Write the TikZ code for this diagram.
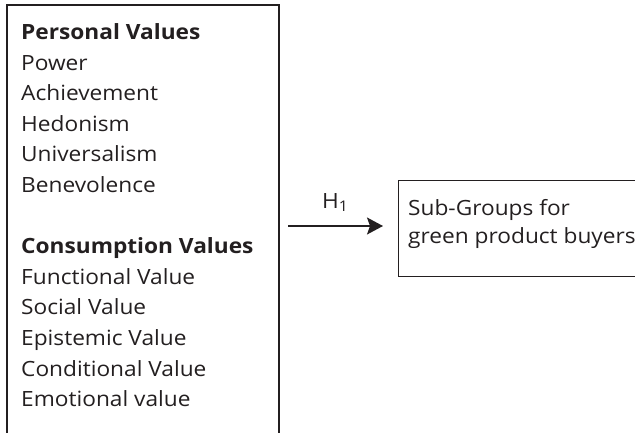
\documentclass[tikz,border=0pt]{standalone}
\usepackage{fontspec}
\setmainfont{Open Sans}[FakeStretch=1.08]
\usepackage{xcolor}
\usetikzlibrary{arrows.meta, positioning}
\definecolor{inkblack}{HTML}{231F20}

\begin{document}
\begin{tikzpicture}[x=1pt, y=-1pt, >={Stealth[length=16pt, width=17pt, inset=3pt]},
    txt/.style={anchor=base west, inner sep=0pt, text=inkblack, font=\fontsize{21}{25}\selectfont},
    frame/.style={draw=inkblack, line width=1.4pt}]

    % drawing area (pixels of the reference)
    \useasboundingbox (0,0) rectangle (635,433);
    \clip (0,0) rectangle (635,433);

    % =================================================================
    % 1. LEFT BOX (open at the bottom)
    % =================================================================
    \draw[frame] (7,440) -- (7,5) -- (279,5) -- (279,440);

    % list of values, one line each
    \foreach \i/\txt in {0/{\textbf{Personal Values}}, 1/Power, 2/Achievement,
        3/Hedonism, 4/Universalism, 5/Benevolence,
        7/{\textbf{Consumption Values}}, 8/Functional Value, 9/Social Value,
        10/Epistemic Value, 11/Conditional Value, 12/Emotional value}
        \node[txt] (val\i) at (21,39.5+30.6*\i) {\txt};

    % =================================================================
    % 2. RIGHT BOX (cut at the right edge)
    % =================================================================
    \node[frame, anchor=north west, minimum width=260pt, minimum height=96pt,
        inner sep=0pt] (subgroups) at (398,180) {};
    \node[txt] (sub1) at (408,215) {Sub-Groups for};
    \node[txt] (sub2) at (408,243.5) {green product buyers};

    % =================================================================
    % 3. ARROW H1
    % =================================================================
    \coordinate (h1start) at (288,226);
    \draw[->, draw=inkblack, fill=inkblack, line width=1.4pt]
        (h1start) -- ([xshift=-15pt]h1start -| subgroups.west);
    \node[txt] (h1) at (322,208) {H\textsubscript{1}};

\end{tikzpicture}
\end{document}
